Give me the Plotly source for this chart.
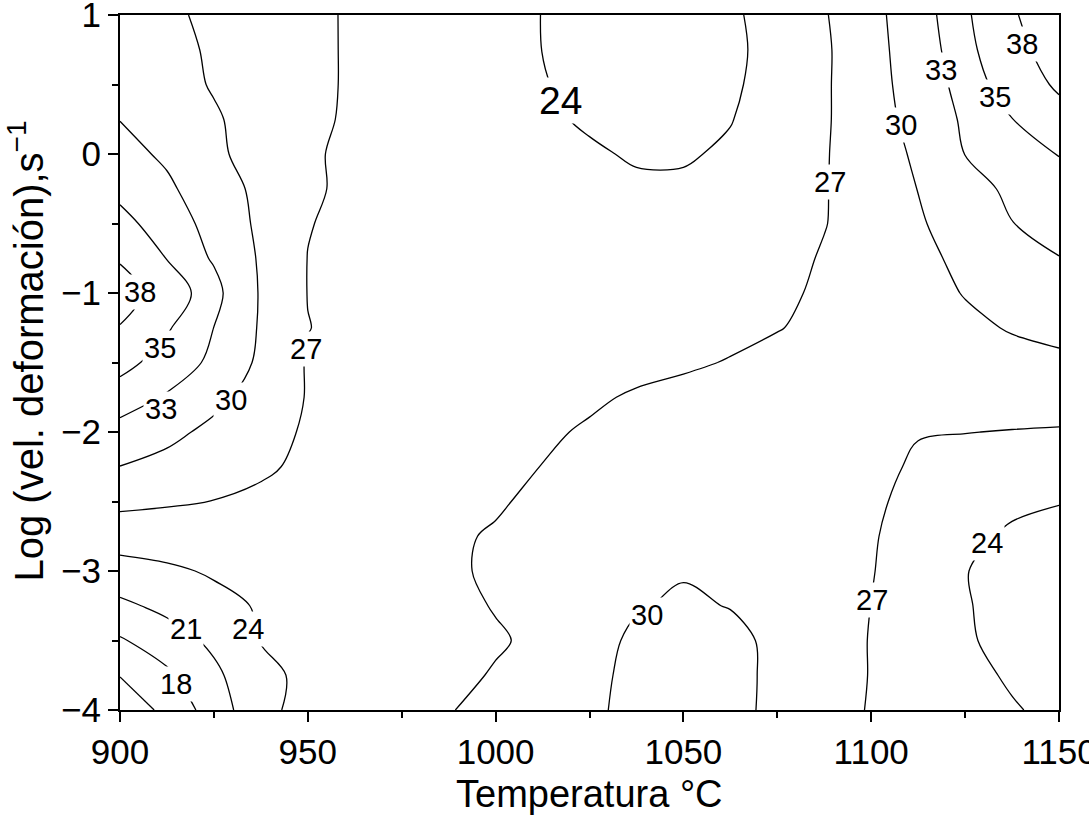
import plotly.graph_objects as go

# Grid nodes: temperature (°C) and log strain rate
temps = [900, 912.5, 925, 937.5, 950, 962.5, 975, 987.5, 1000, 1012.5, 1025,
         1037.5, 1050, 1062.5, 1075, 1087.5, 1100, 1112.5, 1125, 1137.5, 1150]
log_rates = [-4, -3.75, -3.5, -3.25, -3, -2.75, -2.5, -2.25, -2, -1.75, -1.5,
             -1.25, -1, -0.75, -0.5, -0.25, 0, 0.25, 0.5, 0.75, 1]

# Estimated mapped value at each node (one row per log strain rate)
z_m400 = [13.0, 15.75, 19.4, 23.2, 25.0, 25.6, 26.2, 26.9, 27.6, 28.6, 29.6, 30.6, 31.0, 30.6, 29.5, 28.2, 26.8, 25.9, 25.1, 24.2, 23.4]
z_m375 = [15.1, 17.47, 20.35, 23.39, 24.53, 25.18, 25.84, 26.5, 27.15, 28.0, 29.4, 30.6, 31.2, 30.8, 29.4, 28.2, 26.9, 25.7, 24.7, 23.7, 23.0]
z_m350 = [17.7, 19.6, 21.64, 24.1, 25.2, 25.8, 26.2, 26.5, 26.8, 27.4, 29.0, 30.5, 31.3, 30.8, 29.3, 28.1, 26.9, 25.5, 24.3, 23.2, 22.5]
z_m325 = [20.4, 21.74, 23.19, 24.25, 24.81, 25.37, 25.93, 26.49, 27.1, 27.8, 28.8, 29.8, 30.4, 29.9, 29.1, 28.1, 26.98, 25.7, 24.2, 23.0, 22.4]
z_m300 = [22.9, 23.55, 24.3, 25.0, 25.5, 25.9, 26.3, 26.7, 27.3, 28.0, 28.7, 29.4, 29.8, 29.5, 28.9, 28.0, 27.1, 25.9, 24.1, 22.9, 22.5]
z_m275 = [25.3, 25.45, 25.6, 25.8, 25.9, 26.0, 26.2, 26.6, 27.25, 27.9, 28.5, 29.05, 29.35, 29.25, 28.8, 28.0, 27.2, 26.0, 24.5, 23.7, 23.2]
z_m250 = [27.7, 27.3, 26.95, 26.5, 26.1, 25.8, 25.8, 26.1, 26.7, 27.6, 28.2, 28.7, 29.0, 29.0, 28.6, 28.0, 27.4, 26.3, 25.3, 24.4, 24.1]
z_m225 = [29.95, 29.13, 28.25, 27.38, 26.5, 26.0, 25.85, 25.95, 26.3, 27.05, 27.7, 28.3, 28.7, 28.8, 28.7, 28.3, 27.6, 26.7, 26.0, 25.7, 25.4]
z_m200 = [32.3, 30.75, 29.3, 27.93, 26.7, 26.2, 25.9, 25.9, 26.1, 26.6, 27.3, 27.9, 28.3, 28.5, 28.6, 28.5, 28.0, 27.1, 27.05, 26.9, 26.8]
z_m175 = [34.0, 32.82, 30.78, 28.76, 26.85, 26.15, 25.85, 25.75, 25.8, 26.1, 26.6, 27.3, 27.8, 28.1, 28.4, 28.5, 28.6, 28.55, 28.45, 28.3, 28.15]
z_m150 = [35.7, 34.1, 32.6, 29.4, 26.8, 26.1, 25.8, 25.6, 25.5, 25.6, 25.8, 26.2, 26.6, 27.15, 27.7, 28.1, 28.5, 28.8, 29.1, 29.3, 29.5]
z_m125 = [37.85, 35.23, 32.98, 29.71, 27.05, 26.4, 25.95, 25.7, 25.5, 25.45, 25.5, 25.6, 25.9, 26.3, 26.9, 27.55, 28.21, 28.88, 29.54, 30.16, 30.7]
z_m100 = [39.5, 36.3, 33.8, 29.75, 26.95, 26.3, 25.9, 25.7, 25.5, 25.4, 25.3, 25.3, 25.5, 25.9, 26.5, 27.4, 28.3, 29.2, 30.1, 30.9, 31.8]
z_m075 = [37.7, 34.93, 32.75, 29.67, 26.96, 26.3, 25.9, 25.65, 25.45, 25.3, 25.1, 24.95, 25.0, 25.4, 26.1, 27.22, 28.31, 29.4, 30.54, 31.74, 32.95]
z_m050 = [35.7, 33.9, 32.4, 29.33, 27.1, 26.4, 25.9, 25.6, 25.4, 25.2, 24.9, 24.75, 24.75, 25.0, 25.8, 26.9, 28.3, 29.7, 31.3, 32.96, 33.67]
z_m025 = [34.4, 33.43, 31.49, 29.25, 27.34, 26.5, 26.0, 25.65, 25.3, 25.0, 24.6, 24.4, 24.4, 24.9, 25.8, 26.85, 28.44, 30.05, 32.05, 33.48, 34.4]
z_p000 = [33.8, 32.6, 30.55, 28.84, 27.24, 26.6, 26.15, 25.68, 25.22, 24.76, 24.3, 23.75, 23.75, 24.35, 25.73, 26.81, 28.5, 30.46, 33.04, 34.06, 35.05]
z_p025 = [32.95, 31.65, 30.29, 28.91, 27.51, 26.64, 26.08, 25.52, 24.95, 24.39, 23.7, 23.3, 23.35, 23.9, 25.26, 26.7, 28.69, 31.02, 33.4, 34.96, 36.8]
z_p050 = [32.2, 31.0, 29.8, 28.7, 27.57, 26.69, 26.05, 25.42, 24.78, 24.14, 23.3, 22.9, 23.0, 23.6, 25.03, 26.67, 28.84, 31.4, 33.9, 36.05, 38.5]
z_p075 = [31.8, 30.74, 29.68, 28.62, 27.57, 26.69, 26.01, 25.33, 24.66, 23.98, 23.2, 22.8, 22.9, 23.5, 24.84, 26.63, 28.9, 31.74, 34.29, 37.0, 39.5]
z_p100 = [31.5, 30.46, 29.46, 28.5, 27.54, 26.7, 26.02, 25.34, 24.65, 23.97, 23.2, 22.8, 22.9, 23.6, 25.0, 26.8, 29.06, 31.96, 34.6, 37.6, 40.5]

z_rows = [z_m400, z_m375, z_m350, z_m325, z_m300, z_m275, z_m250, z_m225,
          z_m200, z_m175, z_m150, z_m125, z_m100, z_m075, z_m050, z_m025,
          z_p000, z_p025, z_p050, z_p075, z_p100]

# Contour levels drawn on the chart
levels = [15, 18, 21, 24, 27, 30, 33, 35, 38]

# Contour labels as printed on the chart (value, temperature, log rate)
label_values = [38, 35, 33, 30, 27, 24, 21, 18, 24, 27, 30, 33, 35, 38, 30, 27, 24]
label_temps = [905.3, 910.6, 911.0, 929.6, 949.4, 934.2, 917.7, 914.9, 1017.3,
               1088.9, 1108.0, 1118.5, 1133.0, 1140.1, 1040.3, 1100.1, 1130.9]
label_rates = [-0.995, -1.398, -1.835, -1.77, -1.403, -3.415, -3.417, -3.815, 0.388,
               -0.204, 0.209, 0.604, 0.41, 0.79, -3.317, -3.21, -2.80]
label_sizes = [29] * 8 + [39] + [29] * 8

x_ticks = [900, 950, 1000, 1050, 1100, 1150]
y_ticks = [-4, -3, -2, -1, 0, 1]
y_tick_text = ["\u22124", "\u22123", "\u22122", "\u22121", "0", "1"]

FONT = "Liberation Sans, Arial, Helvetica, sans-serif"

fig = go.Figure()
for lev in levels:
    fig.add_trace(go.Contour(
        x=temps, y=log_rates, z=z_rows,
        contours=dict(start=lev, end=lev, size=1, coloring="none", showlabels=False),
        line=dict(color="black", width=1.3, smoothing=1),
        showscale=False, hoverinfo="skip",
    ))

for val, t, r, s in zip(label_values, label_temps, label_rates, label_sizes):
    fig.add_annotation(
        x=t, y=r, xref="x", yref="y", text=str(val), showarrow=False,
        font=dict(size=s, color="black", family=FONT),
        bgcolor="white", borderpad=1, xanchor="center", yanchor="middle",
    )

axis_common = dict(
    showgrid=False, zeroline=False, showline=True, linewidth=2,
    linecolor="black", mirror=True, ticks="outside", ticklen=10,
    tickwidth=1.5, tickcolor="black", ticklabeloverflow="allow",
    automargin=False,
    tickfont=dict(size=35, color="black", family=FONT),
)

fig.update_xaxes(
    range=[900, 1150], tickvals=x_ticks,
    minor=dict(dtick=25, tick0=900, ticks="outside", ticklen=6,
               tickwidth=1.5, tickcolor="black"),
    **axis_common,
)
fig.update_yaxes(
    range=[-4, 1], tickvals=y_ticks, ticktext=y_tick_text,
    minor=dict(dtick=0.5, tick0=-4, ticks="outside", ticklen=6,
               tickwidth=1.5, tickcolor="black"),
    **axis_common,
)

# Axis titles
fig.add_annotation(
    text="Temperatura °C", xref="paper", yref="paper", x=0.5, y=-0.121,
    xanchor="center", yanchor="middle", showarrow=False,
    font=dict(size=38, color="black", family=FONT),
)
fig.add_annotation(
    text="Log (vel. deformación),s<sup>\u22121</sup>",
    xref="paper", yref="paper", x=-0.1, y=0.516,
    xanchor="center", yanchor="middle", textangle=-90, showarrow=False,
    font=dict(size=40, color="black", family=FONT),
)

fig.update_layout(
    width=1089, height=824,
    margin=dict(l=120, r=30, t=15, b=114, autoexpand=False),
    paper_bgcolor="white", plot_bgcolor="white",
    showlegend=False,
)

# Remove the page's default body margin so the figure sits at the window origin
fig.write_html(
    "out.html",
    config={"displayModeBar": False},
    post_script="document.body.style.margin='0';document.body.style.overflow='hidden';",
)
